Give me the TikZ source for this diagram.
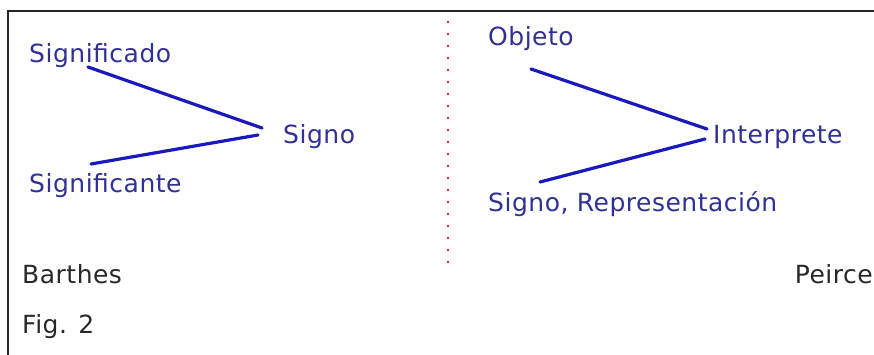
\documentclass[tikz,border=0pt]{standalone}
\usepackage{fontspec}
\setmainfont[LetterSpace=2]{DejaVu Sans}
\usetikzlibrary{calc}
\definecolor{txtblue}{RGB}{48,48,150}
\definecolor{lineblue}{RGB}{25,25,190}
\definecolor{dotred}{RGB}{220,35,35}
\definecolor{txtgray}{RGB}{40,40,40}
\tikzstyle{term}=[anchor=base west,inner sep=0pt,text=txtblue,font=\fontsize{25}{29}\selectfont]
\tikzstyle{note}=[anchor=base west,inner sep=0pt,text=txtgray,font=\fontsize{25}{29}\selectfont]
\tikzstyle{arr}=[draw=lineblue,line width=3.2pt,line cap=round]

\begin{document}
\begin{tikzpicture}[x=1pt,y=-1pt]
\useasboundingbox (0,0) rectangle (874,354);
% frame and divider
\draw[line width=2.8pt,black!85] (880,11) -- (8,11) -- (8,360);
\draw[dotred,line width=2.6pt,line cap=round,dash pattern=on 0pt off 12pt] (448,22) -- (448,266);
% Barthes
\node[term] (sdo) at (29,62) {Significado};
\node[term] (sde) at (29,192) {Significante};
\node[term] (sg) at (283,143) {Signo};
\draw[arr] ($(sdo.base west)+(59,5)$) -- ($(sg.base west)+(-21,-15)$);
\draw[arr] ($(sde.base west)+(62,-28)$) -- ($(sg.base west)+(-25,-8)$);
% Peirce
\node[term] (obj) at (488,45) {Objeto};
\node[term] (int) at (713,143) {Interprete};
\node[term] (rep) at (488,211) {Signo, Representación};
\draw[arr] ($(obj.base west)+(43,24)$) -- ($(int.base west)+(-6,-14)$);
\draw[arr] ($(rep.base west)+(52,-29)$) -- ($(int.base west)+(-8,-4)$);
% captions
\node[note] (bar) at (22,283) {Barthes};
\node[note] (fig) at (22,333) {Fig. 2};
\node[note,anchor=base east] (pei) at (873,283) {Peirce};
\end{tikzpicture}
\end{document}
